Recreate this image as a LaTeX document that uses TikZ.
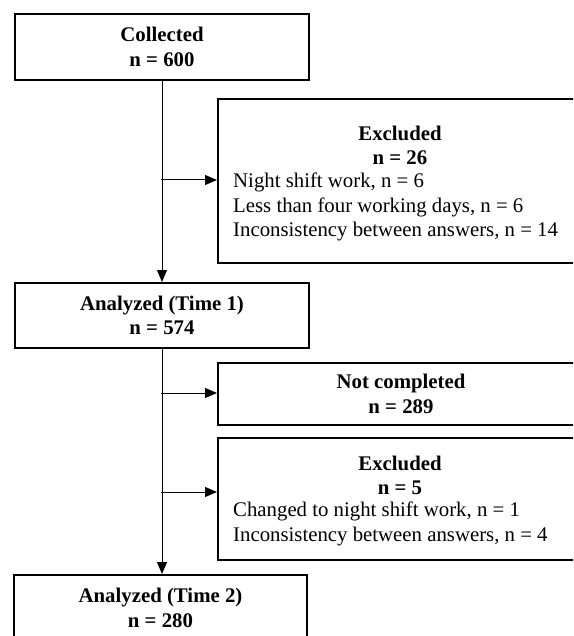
\documentclass[tikz,border=0pt]{standalone}
\usepackage{fontspec}
\setmainfont{Liberation Serif}
\usetikzlibrary{arrows.meta}
\begin{document}
\begin{tikzpicture}[x=1pt,y=-1pt,
  box/.style={draw=black, line width=2pt, rectangle, inner sep=0pt, anchor=north west},
  hdr/.style={font=\fontsize{20.8}{24.5}\selectfont\bfseries, align=center, inner sep=0pt},
  itm/.style={font=\fontsize{20.8}{24.5}\selectfont, align=left, inner sep=0pt, anchor=west},
  arr/.style={line width=1pt, -{Triangle[length=12pt,width=10pt]}}]
\useasboundingbox (0,0) rectangle (573,636);
\clip (0,0) rectangle (573,636);

% main column
\node[box,hdr,minimum width=294pt,minimum height=66pt] (col) at (14,13) {Collected\\n = 600};
\node[box,hdr,minimum width=294pt,minimum height=65pt] (an1) at (14,282) {Analyzed (Time 1)\\n = 574};
\node[box,hdr,minimum width=293pt,minimum height=66pt] (an2) at (13,574) {Analyzed (Time 2)\\n = 280};

% side boxes
\node[box,minimum width=366pt,minimum height=164pt] (ex1) at (217,98) {};
\node[hdr] (ex1h) at (400,145.5) {Excluded\\n = 26};
\node[itm] (ex1i) at (233,207) {Night shift work, n = 6\\Less than four working days, n = 6\\Inconsistency between answers, n = 14};

\node[box,hdr,minimum width=366pt,minimum height=62pt] (nc) at (217,362) {Not completed\\n = 289};

\node[box,minimum width=366pt,minimum height=122pt] (ex2) at (217,437) {};
\node[hdr] (ex2h) at (400,475.5) {Excluded\\n = 5};
\node[itm] (ex2i) at (233,524) {Changed to night shift work, n = 1\\Inconsistency between answers, n = 4};

% connectors
\draw[arr] (col.south) -- (an1.north);
\draw[arr] (an1.south) -- (an1.south |- an2.north);
\coordinate (b1) at (161,180);
\coordinate (b2) at (161,393);
\coordinate (b3) at (161,492);
\draw[arr] (b1) -- (b1 -| ex1.west);
\draw[arr] (b2) -- (b2 -| nc.west);
\draw[arr] (b3) -- (b3 -| ex2.west);
\end{tikzpicture}
\end{document}
